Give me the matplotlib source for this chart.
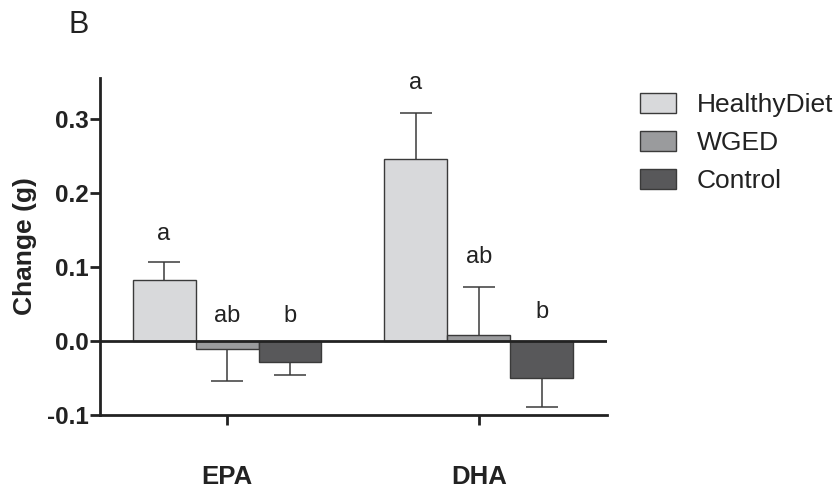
import matplotlib
matplotlib.use("Agg")
import matplotlib.pyplot as plt
import numpy as np

plt.rcParams['font.family'] = ['Liberation Sans', 'DejaVu Sans']

categories = ["EPA", "DHA"]
groups = ["HealthyDiet", "WGED", "Control"]
means = {
    "HealthyDiet": [0.082, 0.246],
    "WGED": [-0.011, 0.008],
    "Control": [-0.028, -0.050],
}
errors = {
    "HealthyDiet": [0.025, 0.062],
    "WGED": [0.043, 0.065],
    "Control": [0.018, 0.039],
}
letters = {
    "HealthyDiet": ["a", "a"],
    "WGED": ["ab", "ab"],
    "Control": ["b", "b"],
}
letter_y = {
    "HealthyDiet": [0.136, 0.340],
    "WGED": [0.026, 0.105],
    "Control": [0.026, 0.031],
}
colors = {"HealthyDiet": "#d8d9db", "WGED": "#9a9b9d", "Control": "#58585a"}
yticks = [-0.1, 0.0, 0.1, 0.2, 0.3]

fig = plt.figure(figsize=(8.37, 4.92), dpi=100)
ax = fig.add_axes([100/837, 1-415/492, 507/837, (415-78)/492])

w = 0.25
x = np.arange(len(categories))
offsets = [-w, 0, w]
handles = []
ecol = "#3a3a3a"
for g, off in zip(groups, offsets):
    vals = np.array(means[g])
    errs = np.array(errors[g])
    b = ax.bar(x + off, vals, width=w, color=colors[g], edgecolor=ecol,
               linewidth=1.0, label=g, zorder=2)
    handles.append(b)
    tips = vals + np.sign(vals) * errs
    ax.vlines(x + off, vals, tips, color=ecol, linewidth=1.1, zorder=1)
    ax.plot(x + off, tips, linestyle="none", marker="_", markersize=23,
            markeredgewidth=1.1, color=ecol, zorder=1)
    for xi, (t, ty) in enumerate(zip(letters[g], letter_y[g])):
        ax.text(x[xi] + off, ty, t, ha="center", va="baseline", fontsize=17,
                color="#222222")

ax.axhline(0, color="#222222", linewidth=2, zorder=3)
ax.set_xlim(-0.504, 1.508)
ax.set_ylim(-0.1, 0.355)
ax.set_yticks(yticks)
ax.set_yticklabels([f"{v:.1f}" for v in yticks], fontsize=17.5, fontweight="bold", color="#222222")
ax.set_xticks(x)
ax.set_xticklabels(categories, fontsize=18.5, fontweight="bold", color="#222222")
ax.tick_params(axis="y", length=7, width=2, pad=1, color="#222222")
ax.tick_params(axis="x", length=7, width=2, pad=29, color="#222222")
for s in ["top", "right"]:
    ax.spines[s].set_visible(False)
for s in ["left", "bottom"]:
    ax.spines[s].set_linewidth(2)
    ax.spines[s].set_color("#222222")
ax.set_ylabel("Change (g)", fontsize=19, fontweight="bold", color="#222222", labelpad=7)

fig.text(69/837, 1-33/492, "B", fontsize=22, color="#222222", ha="left", va="baseline")

leg = fig.legend(handles=handles, labels=groups, loc="upper left",
                 bbox_to_anchor=(640/837, 1-93/492), frameon=False, fontsize=19,
                 handlelength=1.36, handleheight=0.76, handletextpad=0.8,
                 labelspacing=0.53, borderpad=0, borderaxespad=0)
for t in leg.get_texts():
    t.set_color("#222222")

fig.savefig("out.png", dpi=100)
